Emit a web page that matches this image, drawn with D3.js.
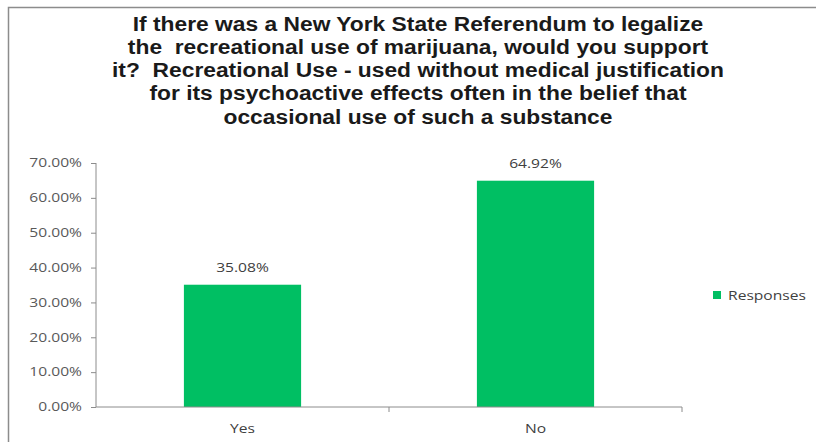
<!DOCTYPE html>
<html><head><meta charset="utf-8">
<script src="https://cdn.jsdelivr.net/npm/d3@7"></script>
<style>body{margin:0;background:#fff;}svg{display:block;}</style>
</head><body>
<svg id="c" width="816" height="442"></svg>
<script>
const titleLines = [
  "If there was a New York State Referendum to legalize",
  "the  recreational use of marijuana, would you support",
  "it?  Recreational Use - used without medical justification",
  "for its psychoactive effects often in the belief that",
  "occasional use of such a substance"
];
const categories = ["Yes", "No"];
const values = [35.08, 64.92];
const yTicks = [0, 10, 20, 30, 40, 50, 60, 70];
const seriesName = "Responses";

const svg = d3.select("#c");
const W = 816, H = 442;
const bodyFont = "Open Sans, sans-serif";
// horizontally stretch a text selection by factor k
function stretch(sel, k) {
  sel.each(function(){
    const len = this.getComputedTextLength();
    d3.select(this).attr("textLength", len*k).attr("lengthAdjust","spacingAndGlyphs");
  });
}

svg.append("rect").attr("x",0).attr("y",0).attr("width",W).attr("height",H).attr("fill","#fff");
svg.append("rect").attr("x",8.5).attr("y",7.5).attr("width",W).attr("height",H)
  .attr("fill","none").attr("stroke","#8c8c8c").attr("stroke-width",1.5);

const x = d3.scaleBand().domain(categories).range([96, 682]).paddingInner(0.6).paddingOuter(0.3);
const y = d3.scaleLinear().domain([0, 70]).range([407, 163]);

// title
const t = svg.append("g")
  .attr("font-family","Liberation Sans, Arial, sans-serif").attr("font-weight","bold")
  .attr("font-size",20).attr("fill","#1a1a1a");
titleLines.forEach((l,i)=>{
  t.append("text").attr("text-anchor","middle").style("white-space","pre")
   .attr("x",418).attr("y",30.5 + i*23.3).text(l);
});
stretch(t.selectAll("text"), 1.14);

// y axis
const ya = svg.append("g").attr("transform","translate(96,0)")
  .call(d3.axisLeft(y).tickValues(yTicks).tickSize(5).tickPadding(9).tickFormat(d=>d.toFixed(2)+"%"));
ya.select(".domain").attr("stroke","#8c8c8c").attr("d","M0,163V407");
ya.selectAll(".tick line").attr("stroke","#8c8c8c");
ya.selectAll(".tick text").attr("fill","#595959").attr("font-family",bodyFont).attr("font-size",12);
stretch(ya.selectAll(".tick text"), 1.3);

// bars
svg.selectAll(".bar").data(values).join("rect").attr("class","bar")
  .attr("x",(d,i)=>x(categories[i])).attr("width",x.bandwidth())
  .attr("y",d=>y(d)).attr("height",d=>y(0)-y(d)).attr("fill","#00bf63");

// x axis
const xa = svg.append("g").attr("transform","translate(0,407)")
  .call(d3.axisBottom(x).tickSize(0).tickPadding(17));
xa.select(".domain").attr("stroke","#8c8c8c").attr("d","M96,0H682");
xa.selectAll(".tick text").attr("fill","#404040").attr("font-family",bodyFont).attr("font-size",12);
stretch(xa.selectAll(".tick text"), 1.3);
// category boundary ticks
const mid = (x("Yes")+x.bandwidth()/2 + x("No")+x.bandwidth()/2)/2;
svg.selectAll(".sep").data([mid, 682]).join("line").attr("class","sep")
  .attr("x1",d=>d).attr("x2",d=>d).attr("y1",407).attr("y2",412).attr("stroke","#8c8c8c");

// data labels
const lbl = svg.selectAll(".lbl").data(values).join("text").attr("class","lbl")
  .attr("x",(d,i)=>x(categories[i])+x.bandwidth()/2).attr("y",d=>y(d)-13)
  .attr("text-anchor","middle").attr("fill","#404040")
  .attr("font-family",bodyFont).attr("font-size",12)
  .text(d=>d.toFixed(2)+"%");
stretch(lbl, 1.3);

// legend
svg.append("rect").attr("x",713).attr("y",291).attr("width",8).attr("height",8).attr("fill","#00bf63");
const lg = svg.append("text").attr("x",728).attr("y",299.5).attr("fill","#404040")
  .attr("font-family",bodyFont).attr("font-size",12).text(seriesName);
stretch(lg, 1.3);
</script>
</body></html>
